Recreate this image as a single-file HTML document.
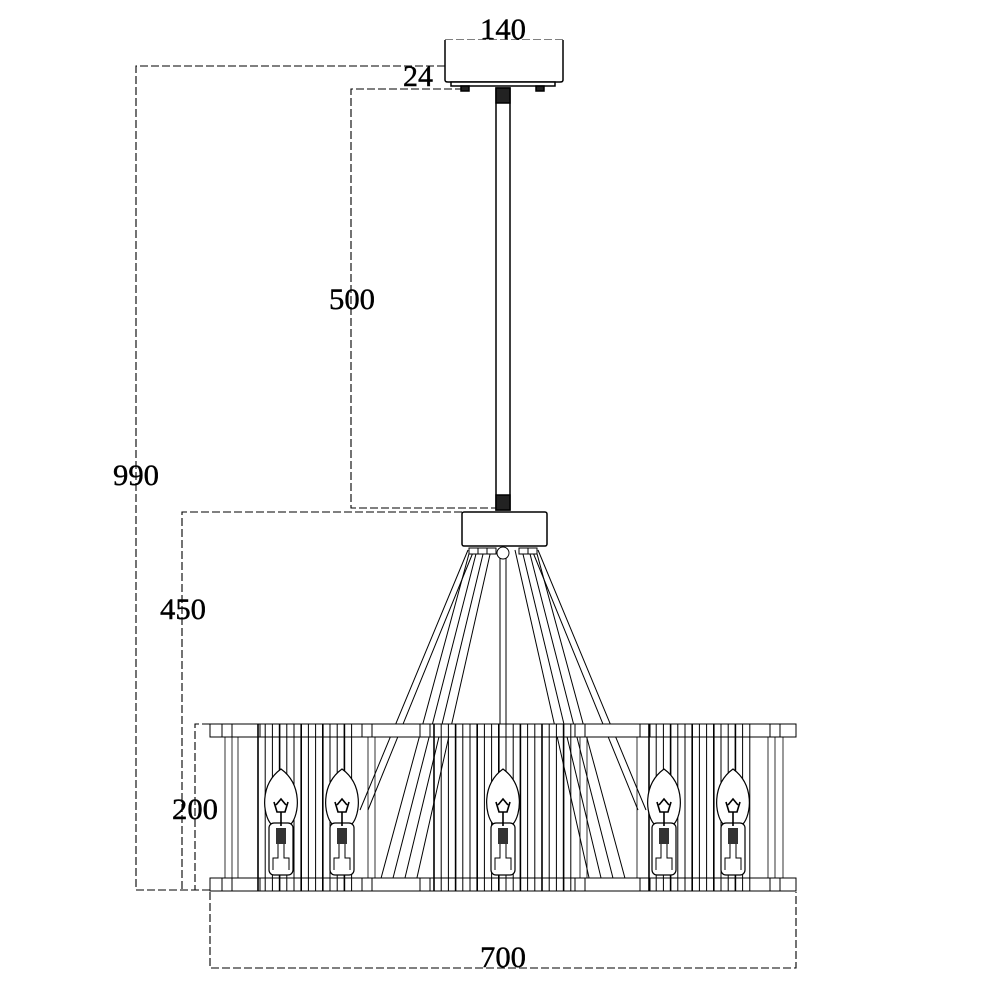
<!DOCTYPE html>
<html><head><meta charset="utf-8"><style>
html,body{margin:0;padding:0;background:#fff}
svg{display:block}
text{font-family:"Liberation Serif",serif;font-size:30px;fill:#000;stroke:#000;stroke-width:0.4}
</style></head><body>
<svg id="s" width="1000" height="1000" viewBox="0 0 1000 1000" xmlns="http://www.w3.org/2000/svg">
<g fill="none" stroke="#000" stroke-width="1.1" stroke-dasharray="8,3">
<polyline points="445,66 136,66 136,890 210,890"/>
<polyline points="463,89 351,89 351,508 496,508"/>
<polyline points="462,512 182,512 182,890"/>
<polyline points="210,724 195,724 195,890"/>
<polyline points="210,892 210,968 796,968 796,892"/>
<line x1="445" y1="40" x2="563" y2="40"/>
</g>
<g fill="#fff" stroke="#000" stroke-width="1.5">
<path d="M445,40 V80 Q445,82 448,82 H560 Q563,82 563,80 V40"/>
<rect x="451" y="82" width="104" height="4"/>
<rect x="461" y="86" width="8" height="5" fill="#222"/>
<rect x="536" y="86" width="8" height="5" fill="#222"/>
<rect x="496" y="88" width="14" height="422"/>
<rect x="496" y="88" width="14" height="15" fill="#222"/>
<rect x="496" y="495" width="14" height="15" fill="#222"/>
<rect x="462" y="512" width="85" height="34" rx="2"/>
</g>
<g id="ring" fill="none" stroke="#000" stroke-width="1"></g>
<text x="503" y="39" text-anchor="middle" textLength="46" lengthAdjust="spacingAndGlyphs">140</text>
<text x="418" y="86" text-anchor="middle" textLength="30" lengthAdjust="spacingAndGlyphs">24</text>
<text x="352" y="309" text-anchor="middle" textLength="46" lengthAdjust="spacingAndGlyphs">500</text>
<text x="136" y="485" text-anchor="middle" textLength="46" lengthAdjust="spacingAndGlyphs">990</text>
<text x="183" y="619" text-anchor="middle" textLength="46" lengthAdjust="spacingAndGlyphs">450</text>
<text x="195" y="819" text-anchor="middle" textLength="46" lengthAdjust="spacingAndGlyphs">200</text>
<text x="503" y="967" text-anchor="middle" textLength="46" lengthAdjust="spacingAndGlyphs">700</text>
</svg>
<script>
var g=document.getElementById('ring'),h='';
function L(a,b,c,d,w){h+='<line x1="'+a+'" y1="'+b+'" x2="'+c+'" y2="'+d+'"'+(w?' stroke-width="'+w+'"':'')+'/>';}
[[470,550,380,882],[477,550,392,882],[484,550,404,882],[491,550,416,882],[468,550,360,810],[474,550,368,810]].forEach(function(p){L(p[0],p[1],p[2],p[3]);L(1006-p[0],p[1],1006-p[2],p[3]);});
L(500,556,500,724);L(506,556,506,724);
h+='<circle cx="503" cy="553" r="6" fill="#fff"/>';
[[469,548],[478,548],[487,548],[519,548],[528,548]].forEach(function(p){h+='<rect x="'+p[0]+'" y="'+p[1]+'" width="9" height="6" fill="#fff"/>';});
h+='<rect x="210" y="724" width="586" height="13" fill="#fff"/>';
h+='<rect x="210" y="878" width="586" height="13" fill="#fff"/>';
[222,232,260,362,372,420,430,575,585,640,650,770,780].forEach(function(x){L(x,724,x,737);L(x,878,x,891);});
[225,232,238,368,375,580,587,637,768,775,783].forEach(function(x){L(x,737,x,878,0.8);});
function dense(a,b){for(var x=a;x<=b;x+=7.2){L(x,724,x,891,(Math.round((x-a)/7.2)%3==0)?1.6:1);}}
dense(258,358);dense(434,572);dense(649,750);
[281,342,503,664,733].forEach(function(c){
 h+='<path d="M'+c+',769 C'+(c+22)+',785 '+(c+18)+',815 '+(c+10)+',824 L'+(c-10)+',824 C'+(c-18)+',815 '+(c-22)+',785 '+c+',769 Z" fill="#fff" stroke-width="1.2"/>';
 h+='<rect x="'+(c-12)+'" y="823" width="24" height="52" rx="5" fill="#fff" stroke-width="1.2"/>';
 h+='<path d="M'+(c-7)+',802 L'+(c-4)+',812 L'+(c+4)+',812 L'+(c+7)+',802 M'+(c-5)+',805 L'+c+',799 L'+(c+5)+',805 M'+c+',812 V826" stroke-width="1.6"/>';
 h+='<rect x="'+(c-5)+'" y="828" width="10" height="16" fill="#333" stroke="none"/>';
 h+='<path d="M'+(c-3)+',844 V858 H'+(c-8)+' V870 M'+(c+3)+',844 V858 H'+(c+8)+' V870"/>';
});
g.innerHTML=h;
</script>
</body></html>
